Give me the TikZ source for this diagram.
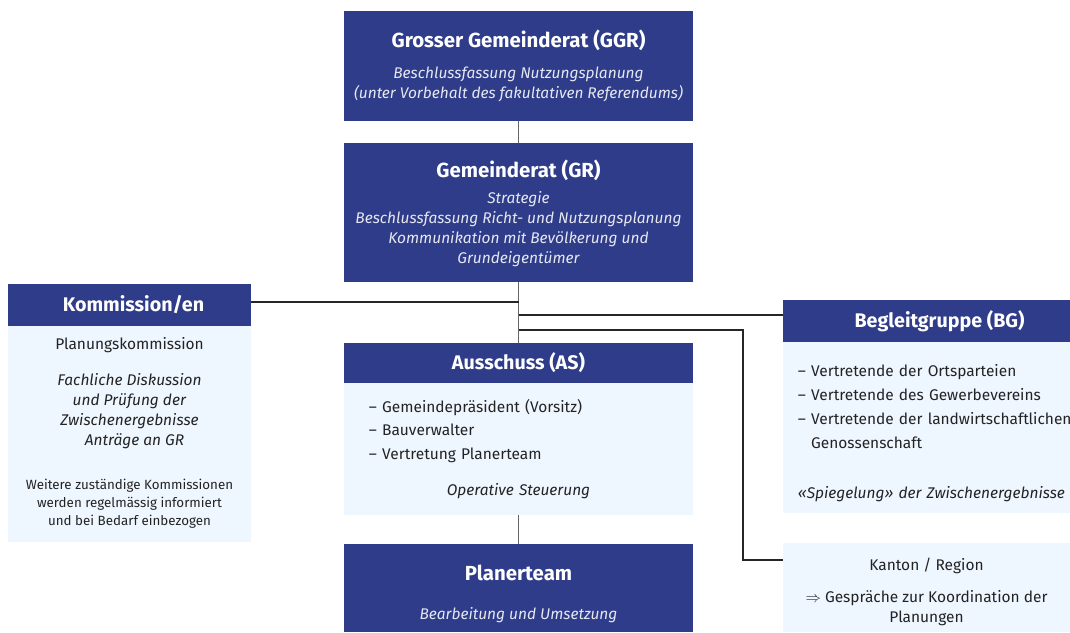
\documentclass[tikz,border=0pt]{standalone}
\usepackage{fontspec}
\setmainfont{Fira Sans}
\usetikzlibrary{positioning}
\definecolor{darkblue}{RGB}{46,60,138}
\definecolor{paleblue}{RGB}{238,246,255}
\definecolor{ink}{RGB}{35,35,35}
\tikzstyle{board} = [rectangle, fill=darkblue, text=white!88!darkblue, minimum width=8.725cm, align=center, inner sep=0pt, outer sep=0pt, font=\fontsize{11}{14.2}\selectfont\itshape]
\tikzstyle{head} = [rectangle, fill=darkblue, text=white, inner sep=0pt, outer sep=0pt, font=\fontsize{14}{17}\selectfont\bfseries]
\tikzstyle{body} = [rectangle, fill=paleblue, text=ink, inner sep=0pt, outer sep=0pt, font=\fontsize{11}{14.2}\selectfont]
\tikzstyle{line} = [draw=black!85, line width=0.8pt]
\tikzstyle{stem} = [draw=black!60, line width=0.9pt]
\newcommand{\boxtitle}[1]{{\color{white}\upshape\fontsize{14.5}{17}\selectfont\bfseries #1}}

\begin{document}
\begin{tikzpicture}[x=0.025cm, y=-0.025cm]
\useasboundingbox (0,0) rectangle (1070,632);

% main column
\node (ggr) [board, minimum height=2.75cm] at (518.5,66) {\boxtitle{Grosser Gemeinderat (GGR)}\\[8pt]
  Beschlussfassung Nutzungsplanung\\ (unter Vorbehalt des fakultativen Referendums)};
\node (gr) [board, minimum height=3.475cm, below=0.55cm of ggr] {\boxtitle{\rule{0pt}{14pt}Gemeinderat (GR)}\\[4.5pt]
  Strategie\\ Beschlussfassung Richt- und Nutzungsplanung\\ Kommunikation mit Bevölkerung und\\ Grundeigentümer};
\node (ash) [head, minimum width=8.725cm, minimum height=1cm, below=1.525cm of gr] {Ausschuss (AS)};
\node (asb) [body, minimum width=8.725cm, minimum height=3.3cm, text width=7.475cm, align=left, below=0pt of ash,
  font=\fontsize{11}{16.7}\selectfont] {– Gemeindepräsident (Vorsitz)\\ – Bauverwalter\\ – Vertretung Planerteam\\[9pt]
  \makebox[\hsize]{\itshape Operative Steuerung}};
\node (plan) [board, minimum height=2.2cm, below=0.725cm of asb] {\boxtitle{\rule{0pt}{19pt}Planerteam}\\[14pt]
  Bearbeitung und Umsetzung};

% left side
\node (komh) [head, minimum width=6.075cm, minimum height=1.05cm] at (129.5,305) {\hspace{0.2cm}Kommission/en};
\node (komb) [body, minimum width=6.075cm, minimum height=5.4cm, align=center, below=0pt of komh] {Planungskommission\\[11pt]
  \textit{Fachliche Diskussion}\\ \textit{und Prüfung der}\\ \textit{Zwischenergebnisse}\\ \textit{\hspace{0.25cm}Anträge an GR}\\[19pt]
  {\fontsize{9.5}{12.8}\selectfont\begin{tabular}{@{}c@{}}Weitere zuständige Kommissionen\\ werden regelmässig informiert\\
  und bei Bedarf einbezogen\end{tabular}}};

% right side
\node (bgh) [head, minimum width=7.175cm, minimum height=1.05cm] at (926.5,321) {\hspace{0.65cm}Begleitgruppe (BG)};
\node (bgb) [body, minimum width=7.175cm, minimum height=4.275cm, text width=6.425cm, align=left, below=0pt of bgh,
  font=\fontsize{11}{17}\selectfont] {\mbox{\rule{0pt}{17pt}– Vertretende der Ortsparteien}\\ \mbox{– Vertretende des Gewerbevereins}\\
  \mbox{– Vertretende der landwirtschaftlichen}\\ \mbox{\phantom{– }Genossenschaft}\\[19pt]
  \mbox{\itshape «Spiegelung» der Zwischenergebnisse}};
\node (kanton) [body, minimum width=7.175cm, minimum height=2.225cm, align=center] at (926.5,587.5) {\rule{0pt}{15pt}Kanton / Region\\[9pt]
  $\Rightarrow$ Gespräche zur Koordination der\\ Planungen};

% connectors
\coordinate (kbend) at (743,330);
\draw [stem] (ggr) -- (gr);
\draw [stem] (gr) -- (ash);
\draw [stem] (asb) -- (plan);
\draw [line] ([yshift=0.075cm]komh.east) -- ([yshift=0.075cm]komh.east -| gr.south);
\draw [line] ([yshift=0.15cm]bgh.west) -- ([yshift=0.15cm]bgh.west -| gr.south);
\draw [line] ([yshift=-0.425cm]kanton.north west) -| (kbend) -- (kbend -| gr.south);

\end{tikzpicture}
\end{document}
